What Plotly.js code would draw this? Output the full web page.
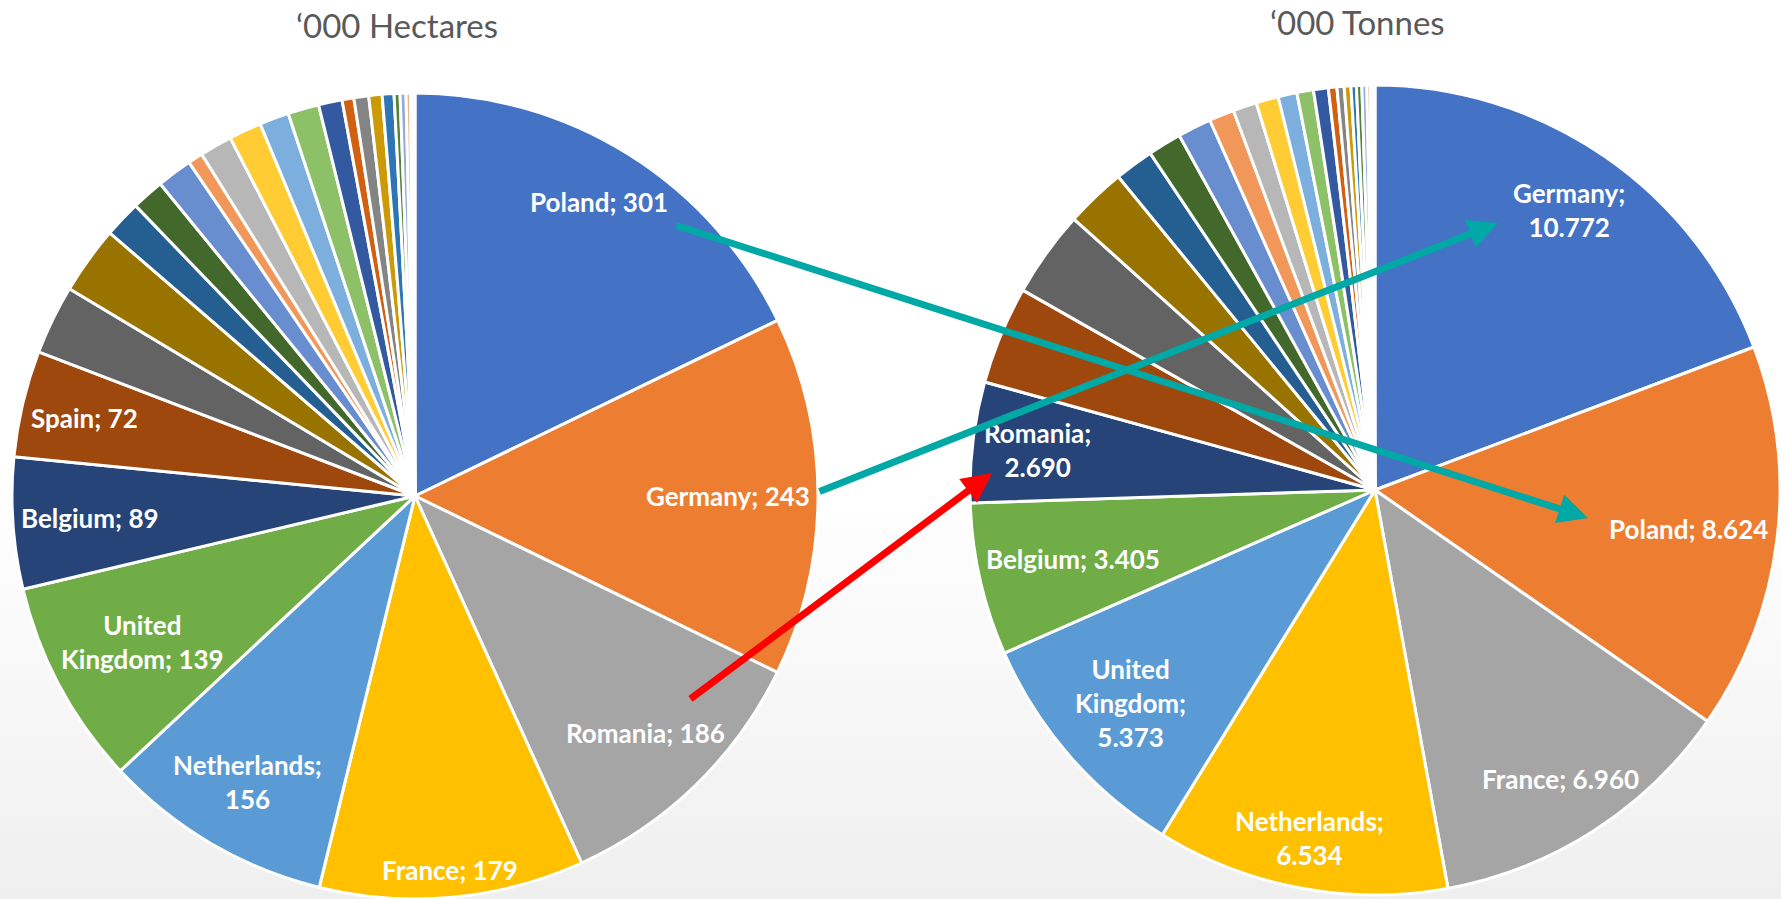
<!DOCTYPE html>
<html>
<head>
<meta charset="utf-8">
<script src="https://cdn.plot.ly/plotly-3.0.1.min.js"></script>
<style>
html, body { margin: 0; padding: 0; overflow: hidden; }
body { background: linear-gradient(to bottom, #ffffff 0%, #ffffff 55%, #efefef 100%); }
#chart { width: 1781px; height: 899px; }
</style>
</head>
<body>
<div id="chart"></div>
<script>
// left pie: area, '000 hectares (only the big ones get a label)
var hectCountries = ['Poland', 'Germany', 'Romania', 'France', 'Netherlands', 'United Kingdom', 'Belgium', 'Spain'];
var hectValues = [301, 243, 186, 179, 156, 139, 89, 72, 47, 46, 25, 22, 24, 10, 22, 22, 20, 21, 16, 8, 10, 9, 8, 4, 4, 3, 2, 1];
var hectWrap = [0, 0, 0, 0, 1, 0, 0, 0];

// right pie: production, '000 tonnes
var tonCountries = ['Germany', 'Poland', 'France', 'Netherlands', 'United Kingdom', 'Belgium', 'Romania'];
var tonValues = [10772, 8624, 6960, 6534, 5373, 3405, 2690, 2190, 1930, 1350, 870, 750, 750, 560, 530, 500, 420, 370, 330, 190, 160, 150, 120, 120, 110, 80, 60, 40];
var tonWrap = [1, 0, 0, 1, 1, 0, 1];

// office colour cycle
var palette = ['#4472C4', '#ED7D31', '#A5A5A5', '#FFC000', '#5B9BD5', '#70AD47',
  '#264478', '#9E480E', '#636363', '#997300', '#255E91', '#43682B',
  '#698ED0', '#F1975A', '#B7B7B7', '#FFCD33', '#7CAFDD', '#8CC168',
  '#335AA1', '#D26012', '#848484', '#CC9A06', '#2E75B6', '#548235',
  '#8FAADC', '#F4B183', '#C9C9C9', '#FFD966', '#9DC3E6', '#A9D18E'];

var W = 1781, H = 899;
var hectGeo = {cx: 415, cy: 496, r: 403};
var tonGeo = {cx: 1375, cy: 490, r: 405};
var labelFont = {family: 'Lato, "Open Sans", sans-serif', size: 26, color: '#ffffff', weight: 'bold'};

function allLabels(named, n) {
  var out = named.slice();
  for (var i = named.length; i < n; i++) out.push('Other ' + (i + 1));
  return out;
}

function domainOf(g) {
  return {
    x: [(g.cx - g.r) / W, (g.cx + g.r) / W],
    y: [1 - (g.cy + g.r) / H, 1 - (g.cy - g.r) / H]
  };
}

function fmtInt(v) { return String(v); }
function fmtThousands(v) {
  var rest = String(v % 1000);
  while (rest.length < 3) rest = '0' + rest;
  return Math.floor(v / 1000) + '.' + rest;
}

var ctx = document.createElement('canvas').getContext('2d');
ctx.font = 'bold ' + labelFont.size + 'px Lato, "Open Sans", sans-serif';
function textBox(txt) {
  var lines = txt.split('<br>');
  var w = 0;
  lines.forEach(function(l) { w = Math.max(w, ctx.measureText(l).width); });
  return {w: w, h: labelFont.size * (1 + 1.3 * (lines.length - 1))};
}

// data labels go "inside end": pushed out along the middle angle until the box meets the rim
function sliceLabels(countries, values, wrap, g, fmt) {
  var total = values.reduce(function(a, b) { return a + b; }, 0);
  var acc = 0, out = [];
  for (var i = 0; i < countries.length; i++) {
    var a0 = acc / total * 2 * Math.PI;
    acc += values[i];
    var a1 = acc / total * 2 * Math.PI;
    var mid = (a0 + a1) / 2;
    var name = countries[i].replace('United ', 'United<br>');
    var txt = name + ';' + (wrap[i] ? '<br>' : ' ') + fmt(values[i]);
    var box = textBox(txt);
    var s = Math.sin(mid), c = Math.cos(mid);
    var rc = g.r - 8 - box.w / 2 * Math.abs(s) - box.h / 2 * Math.abs(c);
    var px = g.cx + rc * s;
    var py = g.cy - rc * c;
    out.push({
      x: px / W, y: 1 - py / H, xref: 'paper', yref: 'paper',
      text: txt,
      showarrow: false, xanchor: 'center', yanchor: 'middle', align: 'center',
      font: labelFont
    });
  }
  return out;
}

var hectPie = {
  type: 'pie',
  values: hectValues,
  labels: allLabels(hectCountries, hectValues.length),
  sort: false,
  direction: 'clockwise',
  rotation: 0,
  textinfo: 'none',
  hoverinfo: 'label+value',
  marker: {colors: palette, line: {color: '#ffffff', width: 3}},
  domain: domainOf(hectGeo)
};

var tonPie = {
  type: 'pie',
  values: tonValues,
  labels: allLabels(tonCountries, tonValues.length),
  sort: false,
  direction: 'clockwise',
  rotation: 0,
  textinfo: 'none',
  hoverinfo: 'label+value',
  marker: {colors: palette, line: {color: '#ffffff', width: 3}},
  domain: domainOf(tonGeo)
};

var titles = [
  {text: '\u2018000 Hectares', x: 397, y: 25},
  {text: '\u2018000 Tonnes', x: 1357, y: 22}
];

// arrows linking the same country in both pies
var arrows = [
  {x0: 675, y0: 225, x1: 1588, y1: 518, color: '#00A8A6'},
  {x0: 818, y0: 492, x1: 1498, y1: 223, color: '#00A8A6'},
  {x0: 689, y0: 700, x1: 992, y1: 473, color: '#FF0000'}
];

var notes = [];
titles.forEach(function(t) {
  notes.push({
    x: t.x / W, y: 1 - t.y / H, xref: 'paper', yref: 'paper',
    text: t.text, showarrow: false, xanchor: 'center', yanchor: 'middle',
    font: {family: 'Lato, "Open Sans", sans-serif', size: 33, color: '#595959'}
  });
});
notes = notes.concat(sliceLabels(hectCountries, hectValues, hectWrap, hectGeo, fmtInt));
notes = notes.concat(sliceLabels(tonCountries, tonValues, tonWrap, tonGeo, fmtThousands));
arrows.forEach(function(a) {
  notes.push({
    x: a.x1 / W, y: 1 - a.y1 / H, xref: 'paper', yref: 'paper',
    ax: a.x0 - a.x1, ay: a.y0 - a.y1, axref: 'pixel', ayref: 'pixel',
    text: '', showarrow: true, arrowhead: 2, arrowsize: 0.85, arrowwidth: 7,
    arrowcolor: a.color, standoff: 0, startstandoff: 0
  });
});

var layout = {
  width: W,
  height: H,
  margin: {l: 0, r: 0, t: 0, b: 0},
  paper_bgcolor: 'rgba(0,0,0,0)',
  plot_bgcolor: 'rgba(0,0,0,0)',
  showlegend: false,
  annotations: notes
};

Plotly.newPlot('chart', [hectPie, tonPie], layout, {displayModeBar: false});
</script>
</body>
</html>
